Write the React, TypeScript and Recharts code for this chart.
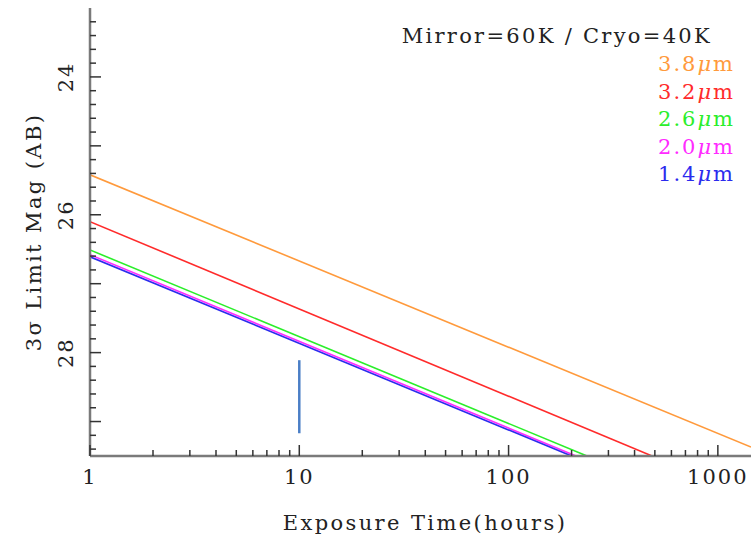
import React from 'react'
import { LineChart, Line, XAxis, YAxis } from 'recharts'

const bands = ['3.8', '3.2', '2.6', '2.0', '1.4']
const bandColors = ['#ff9a3c', '#ff2b2b', '#2bee2b', '#ff2bff', '#2b2bee']
const startHours = [1, 1, 1, 1, 1]
const startMags = [25.42, 26.1, 26.51, 26.58, 26.61]
const endHours = [1440, 485, 237, 210, 200]
const endMags = [29.37, 29.5, 29.5, 29.5, 29.5]

// the short vertical marker at 10 hours
const markerHours = [10, 10]
const markerMags = [28.11, 29.17]

const xMajor = [1, 10, 100, 1000]
const xMinor = [2, 3, 4, 5, 6, 7, 8, 9, 20, 30, 40, 50, 60, 70, 80, 90, 200, 300, 400, 500, 600, 700, 800, 900]
const yMajor = [24, 25, 26, 27, 28, 29]
const yLabels = [24, 26, 28]
const yMinor = [
  23.2, 23.4, 23.6, 23.8, 24.2, 24.4, 24.6, 24.8, 25.2, 25.4, 25.6, 25.8,
  26.2, 26.4, 26.6, 26.8, 27.2, 27.4, 27.6, 27.8, 28.2, 28.4, 28.6, 28.8,
  29.2, 29.4
]

const series = bands.map((b, i) => ({
  name: b,
  color: bandColors[i],
  data: [
    { t: startHours[i], m: startMags[i] },
    { t: endHours[i], m: endMags[i] }
  ]
}))
const marker = markerHours.map((t, i) => ({ t, m: markerMags[i] }))

const font = 'DejaVu Serif, serif'
const textColor = '#222'
const tickColor = '#333'
const frame = '#7a7a7a'

function BottomTick(props: any) {
  const { x, y, payload } = props
  const major = xMajor.includes(payload.value)
  return (
    <g>
      <line x1={x} x2={x} y1={y} y2={y - (major ? 11 : 6)} stroke={tickColor} strokeWidth={1.5} />
      {major && (
        <text x={x} y={y + 21} textAnchor='middle' dominantBaseline='central'
          fontFamily={font} fontSize={21} letterSpacing={2} fill={textColor}>
          {payload.value}
        </text>
      )}
    </g>
  )
}

function TopTick(props: any) {
  const { x, y, payload } = props
  const major = xMajor.includes(payload.value)
  return <line x1={x} x2={x} y1={y} y2={y + (major ? 11 : 6)} stroke={tickColor} strokeWidth={1.5} />
}

function LeftTick(props: any) {
  const { x, y, payload } = props
  const major = yMajor.includes(payload.value)
  return (
    <g>
      <line x1={x} x2={x + (major ? 11 : 6)} y1={y} y2={y} stroke={tickColor} strokeWidth={1.5} />
      {yLabels.includes(payload.value) && (
        <text x={x - 24} y={y} textAnchor='middle' dominantBaseline='central'
          transform={`rotate(-90, ${x - 24}, ${y})`}
          fontFamily={font} fontSize={21} letterSpacing={2} fill={textColor}>
          {payload.value}
        </text>
      )}
    </g>
  )
}

function RightTick(props: any) {
  const { x, y } = props
  return <line x1={x} x2={x - 12} y1={y} y2={y} stroke={tickColor} strokeWidth={1.5} />
}

export default function App() {
  return (
    <div style={{ position: 'fixed', left: 0, top: 0, width: 751, height: 542, overflow: 'hidden', background: '#fff' }}>
      <LineChart width={760} height={542} margin={{ top: 8, right: 0, bottom: 0, left: 0 }}>
        <XAxis xAxisId='b' dataKey='t' type='number' scale='log' domain={[1, 1590]} allowDataOverflow
          ticks={[...xMajor, ...xMinor]} interval={0} height={86} tickSize={0} tickMargin={0}
          tickLine={false} axisLine={{ stroke: frame, strokeWidth: 2.5 }} tick={BottomTick}
          label={(p: any) => {
            const vb = p.viewBox || { x: 90, y: 456, width: 670, height: 86 }
            return (
              <text x={vb.x + vb.width / 2} y={523} textAnchor='middle' dominantBaseline='central'
                fontFamily={font} fontSize={21} letterSpacing={2.4} fill={textColor}>
                Exposure Time(hours)
              </text>
            )
          }} />
        <XAxis xAxisId='t' orientation='top' dataKey='t' type='number' scale='log' domain={[1, 1590]} allowDataOverflow
          ticks={[...xMajor, ...xMinor]} interval={0} height={0} tickSize={0} tickMargin={0}
          tickLine={false} axisLine={{ stroke: frame, strokeWidth: 2.5 }} tick={TopTick} />
        <YAxis yAxisId='l' dataKey='m' type='number' domain={[23, 29.5]} reversed allowDataOverflow
          ticks={[...yMajor, ...yMinor]} interval={0} width={90} tickSize={0} tickMargin={0}
          tickLine={false} axisLine={{ stroke: frame, strokeWidth: 2.5 }} tick={LeftTick}
          label={(p: any) => {
            const vb = p.viewBox || { x: 0, y: 8, width: 90, height: 448 }
            const cy = vb.y + vb.height / 2
            return (
              <text x={34} y={cy} textAnchor='middle' dominantBaseline='central'
                transform={`rotate(-90, 34, ${cy})`}
                fontFamily={font} fontSize={21} letterSpacing={2.4} fill={textColor}>
                3σ Limit Mag (AB)
              </text>
            )
          }} />
        <YAxis yAxisId='r' orientation='right' dataKey='m' type='number' domain={[23, 29.5]} reversed allowDataOverflow
          ticks={yMajor} interval={0} width={0} tickSize={0} tickMargin={0}
          tickLine={false} axisLine={{ stroke: frame, strokeWidth: 2.5 }} tick={RightTick} />
        {series.map(s => (
          <Line key={s.name} xAxisId='b' yAxisId='l' data={s.data} dataKey='m' name={s.name}
            stroke={s.color} strokeWidth={1.6} dot={false} isAnimationActive={false} />
        ))}
        <Line xAxisId='b' yAxisId='l' data={marker} dataKey='m' stroke='#4a7ec6' strokeWidth={2.5}
          dot={false} isAnimationActive={false} />
      </LineChart>
      <div style={{ position: 'absolute', top: 23, right: 39, fontFamily: font, fontSize: 21, letterSpacing: 2.3, lineHeight: '27px', color: textColor, whiteSpace: 'nowrap' }}>
        Mirror=60K / Cryo=40K
      </div>
      <div style={{ position: 'absolute', top: 51, right: 16, fontFamily: font, fontSize: 21, letterSpacing: 2, lineHeight: '27.5px', textAlign: 'right', whiteSpace: 'nowrap' }}>
        {series.map(s => (
          <div key={s.name} style={{ color: s.color }}>
            {s.name}<span style={{ fontStyle: 'italic' }}>μ</span>m
          </div>
        ))}
      </div>
    </div>
  )
}
